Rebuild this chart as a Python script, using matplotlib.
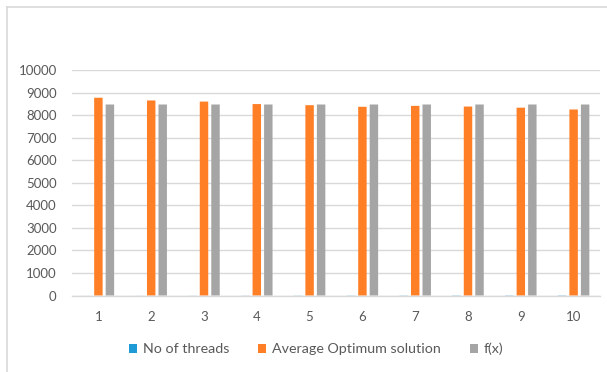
import matplotlib.pyplot as plt
import numpy as np
from matplotlib.lines import Line2D

# values per run
runs = ['1', '2', '3', '4', '5', '6', '7', '8', '9', '10']
threads = [1, 2, 3, 4, 5, 6, 7, 8, 9, 10]
avg_optimum = [8770, 8650, 8600, 8490, 8440, 8370, 8410, 8380, 8330, 8250]
fx = [8470, 8470, 8470, 8470, 8470, 8470, 8470, 8470, 8470, 8470]

series = ['No of threads', 'Average Optimum solution', 'f(x)']
colors = ['#1E9BD7', '#FF7F27', '#A5A5A5']

plt.rcParams['font.family'] = ['Lato', 'DejaVu Sans']

fig = plt.figure(figsize=(6.07, 3.72), dpi=100)
ax = fig.add_axes([0.1186, 0.2056, 0.8699, 0.6062])

x = np.arange(len(runs))
bar_width = 0.16
step = 0.218
for i, (vals, c, name) in enumerate(zip([threads, avg_optimum, fx], colors, series)):
    ax.bar(x + (i - 1) * step, vals, bar_width, color=c, label=name,
           zorder=3, snap=False, linewidth=0)

ax.set_xlim(-0.5, len(runs) - 0.5)
ax.set_ylim(0, 10000)
ax.set_yticks(np.arange(0, 10001, 1000))
ax.set_xticks(x)
ax.set_xticklabels(runs)
ax.tick_params(axis='both', length=0, labelsize=9.5, labelcolor='#595959')
ax.tick_params(axis='y', pad=11)
ax.tick_params(axis='x', pad=11)

ax.grid(True, axis='y', color='#D9D9D9', linewidth=1)
ax.set_axisbelow(True)
for s in ['top', 'right', 'left']:
    ax.spines[s].set_visible(False)
ax.spines['bottom'].set_color('#D9D9D9')
ax.spines['bottom'].set_linewidth(1)
ax.spines['bottom'].set_zorder(4)

handles, labels = ax.get_legend_handles_labels()
fig.legend(handles, labels, loc='center', bbox_to_anchor=(316 / 607, 1 - 349 / 372),
           ncol=3, frameon=False, fontsize=10.3, labelcolor='#595959',
           handlelength=0.6, handleheight=0.6, handletextpad=0.4, columnspacing=2.0)

# light frame around the chart
fig.add_artist(Line2D([7 / 607, 1], [1 - 7 / 372, 1 - 7 / 372], color='#D9D9D9', linewidth=1.2))
fig.add_artist(Line2D([7 / 607, 7 / 607], [0, 1 - 7 / 372], color='#D9D9D9', linewidth=1.2))

fig.savefig('out.png', dpi=100)
